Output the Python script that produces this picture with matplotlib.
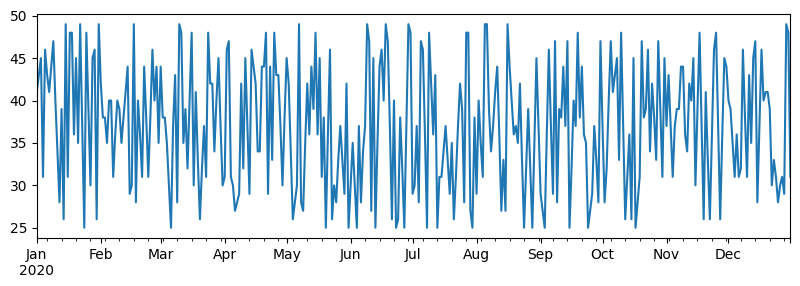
import matplotlib
matplotlib.use('Agg')
import matplotlib.pyplot as plt
import pandas as pd

# daily values, one list per month (2020)
jan = [41, 43, 45, 31, 46, 43, 41, 44, 47, 40, 34, 28, 39, 26, 49, 31, 48, 48, 36, 45,
       35, 49, 37, 25, 48, 39, 30, 45, 46, 26, 49]
feb = [42, 38, 38, 35, 40, 40, 31, 36, 40, 39, 35, 38, 41, 44, 29, 30, 49, 28, 40, 36,
       31, 44, 38, 31, 38, 46, 40, 44, 35]
mar = [44, 38, 38, 35, 30, 25, 37, 43, 28, 49, 48, 35, 39, 32, 40, 48, 30, 41, 33, 26,
       32, 37, 31, 48, 42, 42, 34, 40, 45, 37, 30]
apr = [31, 46, 47, 31, 30, 27, 28, 29, 42, 32, 45, 37, 29, 46, 44, 42, 34, 34, 44, 44,
       48, 29, 44, 33, 48, 43, 43, 37, 30, 38]
may = [45, 42, 34, 26, 28, 30, 49, 28, 27, 35, 42, 36, 44, 39, 48, 36, 45, 31, 38, 25,
       36, 46, 26, 30, 28, 33, 37, 33, 29, 42, 25]
jun = [30, 35, 30, 25, 37, 28, 34, 37, 49, 47, 27, 45, 25, 35, 44, 46, 40, 49, 47, 37,
       26, 40, 25, 26, 38, 32, 25, 37, 49, 48]
jul = [29, 30, 37, 28, 47, 46, 36, 25, 48, 42, 36, 43, 25, 31, 31, 34, 37, 33, 29, 35,
       26, 31, 37, 42, 39, 28, 48, 48, 27, 25, 38]
aug = [29, 40, 35, 31, 49, 49, 39, 34, 37, 41, 44, 36, 27, 33, 27, 49, 44, 40, 36, 37,
       35, 42, 33, 25, 32, 39, 32, 25, 35, 45, 37]
sep = [29, 27, 25, 36, 46, 37, 29, 47, 28, 39, 38, 44, 37, 47, 25, 32, 40, 37, 48, 38,
       44, 36, 35, 25, 27, 29, 37, 33, 28, 47]
oct_ = [37, 28, 32, 40, 47, 41, 43, 45, 33, 48, 37, 26, 31, 36, 26, 45, 25, 28, 31, 47,
        38, 39, 46, 34, 42, 38, 33, 47, 39, 31, 45]
nov = [37, 43, 37, 31, 37, 39, 39, 44, 44, 36, 34, 42, 40, 45, 30, 39, 48, 37, 26, 41,
       33, 26, 36, 46, 48, 37, 26, 36, 45, 44]
dec = [40, 39, 35, 31, 36, 31, 32, 46, 38, 31, 43, 35, 45, 47, 28, 37, 46, 40, 41, 41,
       39, 30, 33, 31, 28, 30, 31, 29, 49, 48, 31]

values = jan + feb + mar + apr + may + jun + jul + aug + sep + oct_ + nov + dec
dates = pd.date_range('2020-01-01', periods=len(values), freq='D')
series = pd.Series(values, index=dates)

fig, ax = plt.subplots(figsize=(8, 2.86), dpi=100)
fig.subplots_adjust(left=0.046, right=0.988, top=0.951, bottom=0.168)

series.plot(ax=ax, color='#1f77b4', linewidth=1.5)

plt.savefig('out.png', dpi=100)
